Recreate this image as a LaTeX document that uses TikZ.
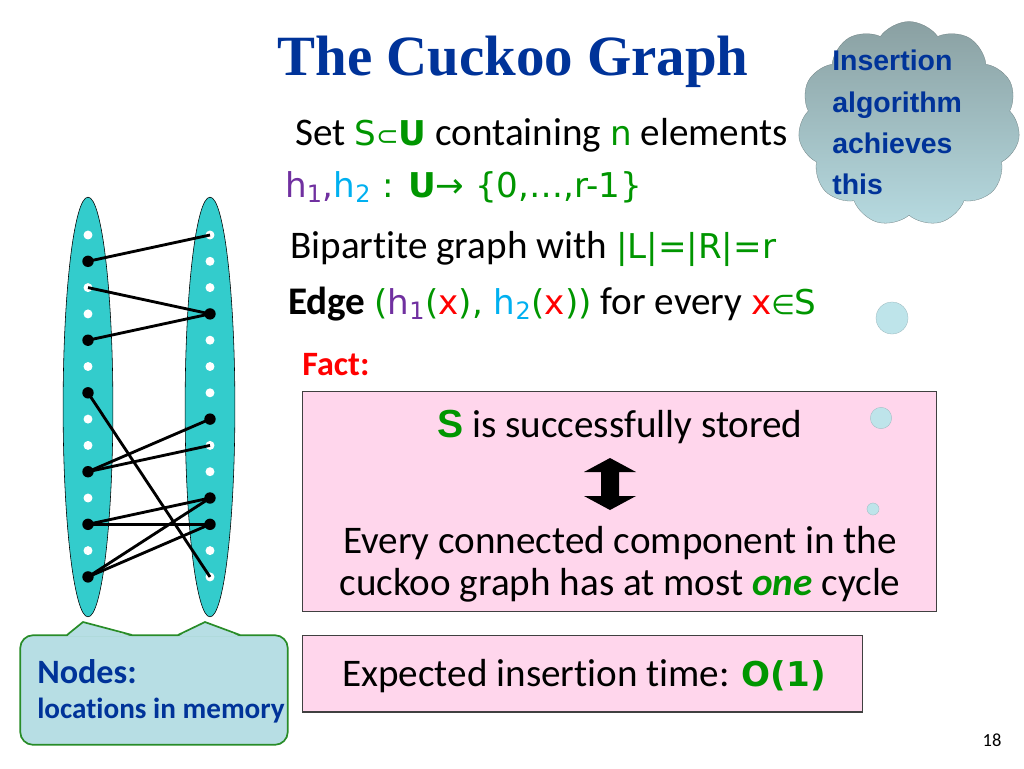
\documentclass[tikz,border=0pt]{standalone}
\usepackage{fontspec}
\setmainfont{Carlito}[Ligatures=NoCommon]
\newfontfamily\titlefont{Liberation Serif}
\newfontfamily\cloudfont{Liberation Sans}
\newfontfamily\symfont{DejaVu Sans}
\usetikzlibrary{shapes.geometric,shapes.symbols}

\definecolor{titleblue}{RGB}{0,51,153}
\definecolor{factgreen}{RGB}{0,150,0}
\definecolor{hpurple}{RGB}{112,48,160}
\definecolor{hblue}{RGB}{0,176,240}
\definecolor{colteal}{RGB}{51,204,204}
\definecolor{boxpink}{RGB}{255,214,236}
\definecolor{notefill}{RGB}{183,222,228}
\definecolor{notegreen}{RGB}{40,140,40}
\definecolor{cloudtop}{RGB}{138,160,162}
\definecolor{cloudbot}{RGB}{182,218,224}
\definecolor{bubblefill}{RGB}{190,228,234}

% wide rounded letters for the formulas
\newcommand{\fml}[1]{{\symfont\fontsize{24}{29}\selectfont #1}}
\newcommand{\smallrel}[1]{{\symfont\fontsize{19}{24}\selectfont #1}}

\begin{document}
\begin{tikzpicture}[x=0.7028pt, y=-0.7028pt,
            column/.style={ellipse, draw=black, fill=colteal, minimum width=35pt, minimum height=295pt, inner sep=0pt},
            freedot/.style={circle, fill=white, minimum size=6.3pt, inner sep=0pt},
            usedot/.style={circle, fill=black, minimum size=8pt, inner sep=0pt},
            cuckooedge/.style={line width=2pt},
            bodytext/.style={font=\fontsize{27.5}{33}\selectfont, inner sep=0pt},
            factbox/.style={draw=black!75, fill=boxpink, line width=0.8pt, inner sep=0pt},
            notebox/.style={draw=notegreen, fill=notefill, line width=1.2pt, rounded corners=9pt, minimum width=188pt, minimum height=77pt},
            thought/.style={cloud, cloud puffs=11, cloud puff arc=110, aspect=1.1, minimum width=156pt, minimum height=144pt, top color=cloudtop, bottom color=cloudbot, draw=cloudtop!80!black, line width=0.2pt},
            bubble/.style={circle, fill=bubblefill, draw=bubblefill!80!black, line width=0.2pt, inner sep=0pt},
        ]
        \fill[white] (0,0) rectangle (1024,768);
        \useasboundingbox (0,0) rectangle (1024,768);

        % title and text
        \node[font=\titlefont\bfseries\fontsize{40}{44}\selectfont, text=titleblue, anchor=base, inner sep=0pt] (title) at (513,75) {The Cuckoo Graph};
        \node[bodytext, anchor=base west] (setline) at (295,145) {Set \textcolor{factgreen}{\fml{S\smallrel{⊂}\textbf{U}}} containing \textcolor{factgreen}{\fml{n}} elements};
        \node[bodytext, anchor=base west] (hashline) at (285,197) {\fml{\textcolor{hpurple}{h\textsubscript{1},}\textcolor{hblue}{h\textsubscript{2}} \textcolor{factgreen}{: \textbf{U}→ \{0,…,r-1\}}}};
        \node[bodytext, anchor=base west] (bipline) at (290,258) {Bipartite graph with \textcolor{factgreen}{\fml{|L|=|R|=r}}};
        \node[bodytext, anchor=base west] (edgeline) at (288,314) {\textbf{Edge} \fml{\textcolor{factgreen}{(\textcolor{hpurple}{h\textsubscript{1}}(\textcolor{red}{x}), \textcolor{hblue}{h\textsubscript{2}}(\textcolor{red}{x}))}} for every \fml{\textcolor{red}{x}\textcolor{factgreen}{\smallrel{∈}S}}};
        \node[font=\bfseries\fontsize{24}{28}\selectfont, text=red, anchor=base west, inner sep=0pt] (fact) at (302,375) {Fact:};

        % fact boxes
        \node[factbox, minimum width=445pt, minimum height=155pt] (factbox) at (619.5,501.5) {};
        \node[factbox, minimum width=393pt, minimum height=54pt] (timebox) at (582.5,673.5) {};
        \node[bodytext, anchor=base] (stored) at (620,437) {\textcolor{factgreen}{\cloudfont\bfseries S} is successfully stored};
        \node[bodytext, anchor=base] (cycleA) at (620,553) {Every connected component in the};
        \node[bodytext, anchor=base] (cycleB) at (620,595) {cuckoo graph has at most \textcolor{factgreen}{\textbf{\textit{one}}} cycle};
        \node[bodytext, anchor=base] (timeline) at (584,686) {Expected insertion time: \textcolor{factgreen}{\fml{\textbf{O(1)}}}};
        \fill[black] (610,458) -- (636,472) -- (619,472) -- (619,496) -- (636,496) -- (610,510)
            -- (584,496) -- (601,496) -- (601,472) -- (584,472) -- cycle;

        % thought cloud
        \node[thought] (thought) at (909,124) {};
        \node[font=\cloudfont\bfseries\fontsize{20}{29}\selectfont, text=titleblue, align=left, anchor=north west, inner sep=0pt] (thoughttext) at (832,50) {Insertion\\algorithm\\achieves\\this};
        \node[bubble, minimum size=22.5pt] (bubbleA) at (892,318) {};
        \node[bubble, minimum size=15pt] (bubbleB) at (881,418) {};
        \node[bubble, minimum size=8.5pt] (bubbleC) at (873,509) {};

        % the two columns
        \node[column] (leftcol) at (88,407) {};
        \node[column] (rightcol) at (210,407) {};
        \foreach \i/\lk/\rk in {1/freedot/freedot, 2/usedot/freedot, 3/freedot/freedot, 4/freedot/usedot,
                5/usedot/freedot, 6/freedot/freedot, 7/usedot/freedot, 8/freedot/usedot,
                9/freedot/freedot, 10/usedot/freedot, 11/freedot/usedot, 12/usedot/usedot,
                13/freedot/freedot, 14/usedot/freedot} {
            \node[\lk] (l\i) at (88,{235+(\i-1)*26.3}) {};
            \node[\rk] (r\i) at (210,{235+(\i-1)*26.3}) {};
        }
        \foreach \a/\b in {2/1, 3/4, 5/4, 7/14, 10/8, 10/9, 12/11, 12/12, 14/11, 14/12}
            \draw[cuckooedge] (l\a.center) -- (r\b.center);

        % callout
        \node[notebox] (note) at (154,690) {};
        \fill[notefill] (67,636.5) -- (83,622) -- (132,636.5) -- cycle;
        \fill[notefill] (178,636.5) -- (205,622) -- (240,636.5) -- cycle;
        \draw[notegreen, line width=1.2pt] (67,635) -- (83,622) -- (132,635);
        \draw[notegreen, line width=1.2pt] (178,635) -- (205,622) -- (240,635);
        \node[font=\bfseries\fontsize{24}{28}\selectfont, text=titleblue, anchor=base west, inner sep=0pt] (notehead) at (37,683) {Nodes:};
        \node[font=\bfseries\fontsize{20.5}{24}\selectfont, text=titleblue, anchor=base west, inner sep=0pt] (notebody) at (37,718) {locations in memory};

        \node[font=\fontsize{13}{16}\selectfont, anchor=base, inner sep=0pt] (pagenum) at (992,746) {18};
    \end{tikzpicture}
\end{document}
